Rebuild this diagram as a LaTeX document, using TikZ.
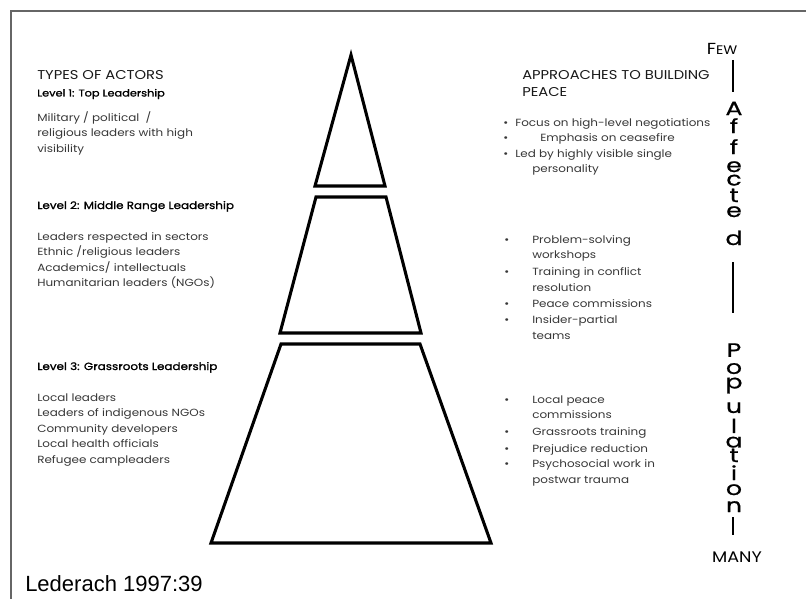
\documentclass[tikz,border=0pt]{standalone}
\usepackage{fontspec}
\setmainfont[FakeStretch=1.15]{Poppins}
\newfontfamily\arialf{Liberation Sans}
\newfontfamily\popmed[FakeBold=1.2,FakeStretch=1.15]{Poppins}
\newfontfamily\vfont[FakeBold=0.8,FakeStretch=1.3]{Poppins}
\newcommand\vlet[1]{\hbox to 20pt{\hss#1\hss}}
\newcommand\vstack[1]{\vbox{\baselineskip=0pt\lineskiplimit=-1000pt\lineskip=0pt #1}}
\begin{document}
\begin{tikzpicture}[x=0.75pt,y=-0.75pt]
\tikzset{
  hd/.style={anchor=base west, inner sep=0pt, text=black!90, font=\fontsize{9.6}{11}\selectfont},
  lv/.style={anchor=base west, inner sep=0pt, text=black, font=\popmed\fontsize{7.8}{9}\selectfont},
  bd/.style={anchor=base west, inner sep=0pt, text=black!78, font=\fontsize{7.8}{9}\selectfont},
  vl/.style={anchor=base, inner sep=0pt, text=black, font=\vfont\fontsize{14.5}{16}\selectfont},
  pyr/.style={draw=black, line width=2.3pt, line join=miter},
  bar/.style={draw=black, line width=1.6pt},
  frameline/.style={draw=black!60, line width=1.1pt}
}
\fill[white] (0,0) rectangle (806,599);
\useasboundingbox (0,0) rectangle (806,599);
% frame
\draw[frameline] (11,599) -- (11,11) -- (806,11);
% pyramid
\draw[pyr] (351,55) -- (385,186) -- (315,186) -- cycle;
\draw[pyr] (316,197) -- (386,197) -- (421,333) -- (280,333) -- cycle;
\draw[pyr] (281,344) -- (420,344) -- (491,543) -- (211,543) -- cycle;
% left column
\node[hd] (types) at (37,80) {TYPES OF ACTORS};
\node[lv, font=\popmed\fontsize{7.4}{9}\selectfont] (lv1) at (37,96.5) {Level 1: Top Leadership};
\node[bd] (l1a) at (37,122) {Military / political \ /};
\node[bd] (l1b) at (37,137) {religious leaders with high};
\node[bd] (l1c) at (37,152) {visibility};
\node[lv] (lv2) at (37,209) {Level 2: Middle Range Leadership};
\node[bd] (l2a) at (37,240) {Leaders respected in sectors};
\node[bd] (l2b) at (37,255.5) {Ethnic /religious leaders};
\node[bd] (l2c) at (37,271) {Academics/ intellectuals};
\node[bd] (l2d) at (37,286.5) {Humanitarian leaders (NGOs)};
\node[lv] (lv3) at (37,370) {Level 3: Grassroots Leadership};
\node[bd] (l3a) at (37,401) {Local leaders};
\node[bd] (l3b) at (37,416.5) {Leaders of indigenous NGOs};
\node[bd] (l3c) at (37,432) {Community developers};
\node[bd] (l3d) at (37,447.5) {Local health officials};
\node[bd] (l3e) at (37,463) {Refugee campleaders};
\node[anchor=base west, inner sep=0pt, font=\arialf\fontsize{16.5}{20}\selectfont] (src) at (25,591) {Lederach 1997:39};
% right column
\node[hd] (appr1) at (522,79.5) {APPROACHES TO BUILDING};
\node[hd] (appr2) at (522,97) {PEACE};
\node[bd] (b1) at (503,126.5) {\textbullet};
\node[bd] (r1a) at (515,126.5) {Focus on high-level negotiations};
\node[bd] (b2) at (503,141.5) {\textbullet};
\node[bd] (r1b) at (540,141.5) {Emphasis on ceasefire};
\node[bd] (b3) at (503,157) {\textbullet};
\node[bd] (r1c) at (515,157) {Led by highly visible single};
\node[bd] (r1d) at (532,172.5) {personality};
\node[bd] (b4) at (504,243) {\textbullet};
\node[bd] (r2a) at (532,243) {Problem-solving};
\node[bd] (r2b) at (532,258) {workshops};
\node[bd] (b5) at (504,275) {\textbullet};
\node[bd] (r2c) at (532,275) {Training in conflict};
\node[bd] (r2d) at (532,291) {resolution};
\node[bd] (b6) at (504,307) {\textbullet};
\node[bd] (r2e) at (532,307) {Peace commissions};
\node[bd] (b7) at (504,323) {\textbullet};
\node[bd] (r2f) at (532,323) {Insider-partial};
\node[bd] (r2g) at (532,339) {teams};
\node[bd] (b8) at (504,403) {\textbullet};
\node[bd] (r3a) at (532,403) {Local peace};
\node[bd] (r3b) at (532,418) {commissions};
\node[bd] (b9) at (504,435) {\textbullet};
\node[bd] (r3c) at (532,435) {Grassroots training};
\node[bd] (b10) at (504,452) {\textbullet};
\node[bd] (r3d) at (532,452) {Prejudice reduction};
\node[bd] (b11) at (504,467) {\textbullet};
\node[bd] (r3e) at (532,467) {Psychosocial work in};
\node[bd] (r3f) at (532,483) {postwar trauma};
% vertical scale
\node[anchor=base, inner sep=0pt, text=black] (few) at (722,55) {\fontsize{12}{13}\selectfont F\fontsize{9.3}{11}\selectfont EW};
\node[vl] (affected) at (734,245) {\vstack{\vlet{A}\vskip13.5pt\vlet{f}\vskip15.75pt\vlet{f}\vskip13.5pt\vlet{e}\vskip10.1pt\vlet{c}\vskip12.4pt\vlet{t}\vskip11.25pt\vlet{e}\vskip21pt\vlet{d}}};
\node[vl] (population) at (734,512) {\vstack{\vlet{P}\vskip12.75pt\vlet{o}\vskip10.9pt\vlet{p}\vskip18.4pt\vlet{u}\vskip15pt\vlet{l}\vskip10.9pt\vlet{a}\vskip10.9pt\vlet{t}\vskip13.5pt\vlet{i}\vskip11.25pt\vlet{o}\vskip12.75pt\vlet{n}}};
\node[anchor=base, inner sep=0pt, text=black, font=\fontsize{11.5}{13}\selectfont] (many) at (737,562) {MANY};
\coordinate (s1a) at (733,60);
\coordinate (s1b) at (733,92);
\coordinate (s2a) at (733,262);
\coordinate (s2b) at (733,313);
\coordinate (s3a) at (733,517);
\coordinate (s3b) at (733,535);
\draw[bar] (s1a) -- (s1b);
\draw[bar] (s2a) -- (s2b);
\draw[bar] (s3a) -- (s3b);
\end{tikzpicture}
\end{document}
